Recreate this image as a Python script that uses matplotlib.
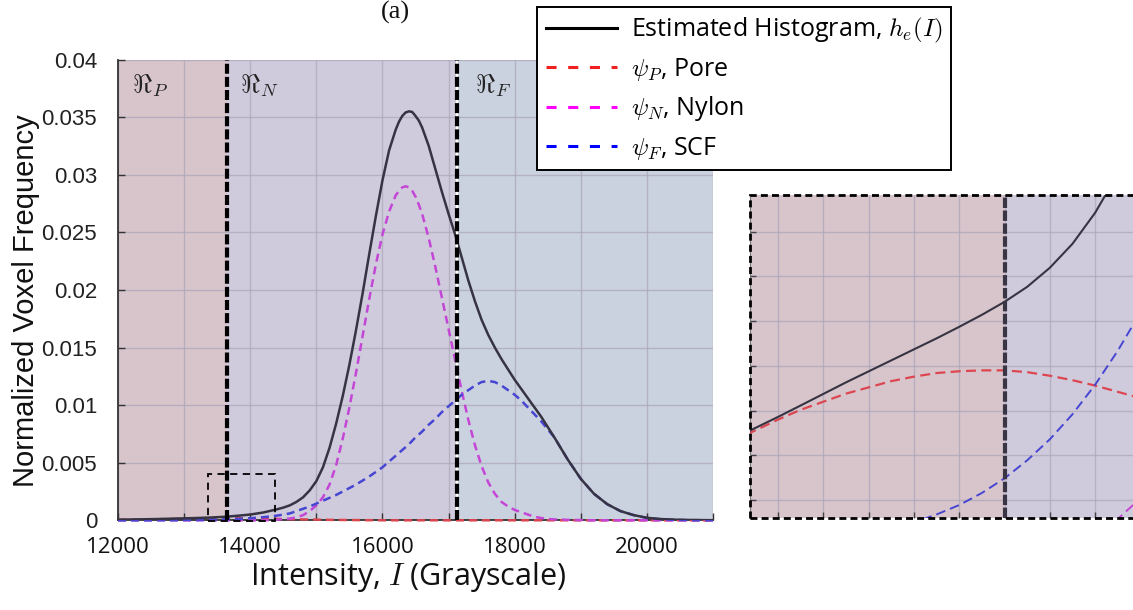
import numpy as np
import matplotlib
matplotlib.use("Agg")
import matplotlib.pyplot as plt
from matplotlib.lines import Line2D
from matplotlib.patches import Rectangle

plt.rcParams['mathtext.fontset'] = 'cm'

# ---------------- data ----------------
intensity = [12000, 12200, 12400, 12600, 12800, 13000, 13200, 13400, 13600, 13800,
             14000, 14200, 14400, 14500, 14600, 14700, 14800, 14900, 15000, 15100,
             15200, 15300, 15400, 15500, 15600, 15700, 15800, 15900, 16000, 16100,
             16200, 16250, 16300, 16350, 16400, 16450, 16500, 16550, 16600, 16700,
             16800, 16900, 17000, 17100, 17200, 17300, 17400, 17500, 17600, 17700,
             17800, 17900, 18000, 18100, 18200, 18300, 18400, 18500, 18600, 18800,
             19000, 19200, 19400, 19600, 19800, 20000, 20200, 20400, 20600, 20800,
             21000]

h_estimated = [0.00006, 0.00007, 0.00009, 0.00011, 0.00014, 0.00017, 0.00020, 0.00024, 0.00030, 0.00039,
               0.00050, 0.00068, 0.00095, 0.0011, 0.0013, 0.0016, 0.0020, 0.0026, 0.0034, 0.0046,
               0.0063, 0.0084, 0.0108, 0.0135, 0.0165, 0.0197, 0.0231, 0.0264, 0.0295, 0.0321,
               0.0339, 0.0346, 0.0351, 0.0354, 0.0355, 0.03545, 0.0351, 0.0347, 0.0341, 0.0325,
               0.0305, 0.0285, 0.0266, 0.0248, 0.0228, 0.0208, 0.0190, 0.0174, 0.0161, 0.0150,
               0.0140, 0.0131, 0.0122, 0.0114, 0.0106, 0.0098, 0.0090, 0.0081, 0.0072, 0.0053,
               0.0036, 0.0023, 0.0014, 0.0008, 0.00045, 0.00022, 0.00011, 0.00006, 0.00003, 0.00002,
               0.00001]

psi_pore = [0.00004, 0.00005, 0.00007, 0.00009, 0.00011, 0.00013, 0.00016, 0.00018, 0.00019, 0.00019,
            0.00017, 0.00015, 0.00012, 0.00011, 0.00010, 0.00009, 0.00008, 0.00007, 0.00006, 0.00005,
            0.00004, 0.00003, 0.00003, 0.00002, 0.00002, 0.00001, 0.00001, 0.00001, 0.0, 0.0,
            0.0, 0.0, 0.0, 0.0, 0.0, 0.0, 0.0, 0.0, 0.0, 0.0,
            0.0, 0.0, 0.0, 0.0, 0.0, 0.0, 0.0, 0.0, 0.0, 0.0,
            0.0, 0.0, 0.0, 0.0, 0.0, 0.0, 0.0, 0.0, 0.0, 0.0,
            0.0, 0.0, 0.0, 0.0, 0.0, 0.0, 0.0, 0.0, 0.0, 0.0,
            0.0]

psi_nylon = [0.0, 0.0, 0.0, 0.0, 0.0, 0.0, 0.0, 0.0, 0.0, 0.0,
             0.0, 0.0, 0.00005, 0.0001, 0.00015, 0.00026, 0.00045, 0.0008, 0.0013, 0.0020,
             0.0031, 0.0048, 0.0071, 0.0098, 0.0128, 0.0160, 0.0192, 0.0222, 0.0248, 0.0268,
             0.0282, 0.0286, 0.0289, 0.0290, 0.0289, 0.0286, 0.0281, 0.0274, 0.0266, 0.0245,
             0.0220, 0.0193, 0.0166, 0.0139, 0.0112, 0.0087, 0.0065, 0.0047, 0.0033, 0.0023,
             0.0016, 0.0012, 0.0009, 0.0007, 0.0005, 0.0003, 0.0002, 0.00012, 0.00008, 0.00004,
             0.00002, 0.0, 0.0, 0.0, 0.0, 0.0, 0.0, 0.0, 0.0, 0.0,
             0.0]

psi_scf = [0.0, 0.0, 0.0, 0.00001, 0.00001, 0.00002, 0.00003, 0.00005, 0.00008, 0.00012,
           0.00018, 0.00027, 0.0004, 0.0005, 0.0006, 0.0008, 0.0010, 0.0012, 0.00145, 0.0017,
           0.00195, 0.0022, 0.0025, 0.0028, 0.0031, 0.00345, 0.0038, 0.0042, 0.0046, 0.0051,
           0.0056, 0.00585, 0.0061, 0.00635, 0.0066, 0.0069, 0.0072, 0.00745, 0.0077, 0.0083,
           0.0088, 0.0094, 0.0099, 0.0104, 0.0109, 0.0113, 0.0117, 0.0120, 0.0121, 0.0120,
           0.0117, 0.0113, 0.0109, 0.0104, 0.0098, 0.0092, 0.0086, 0.0079, 0.0072, 0.0053,
           0.0036, 0.0023, 0.0014, 0.0008, 0.00045, 0.0002, 0.0001, 0.00005, 0.00002, 0.00001,
           0.0]

# magnified view around the pore / nylon threshold
inset_intensity = [13350, 13375, 13400, 13425, 13450, 13475, 13500, 13525, 13550, 13575,
                   13600, 13625, 13650, 13675, 13700, 13725, 13750, 13775, 13800]
inset_h = [0.0001184, 0.0001307, 0.0001430, 0.0001558, 0.0001687, 0.0001816, 0.0001939,
           0.0002062, 0.0002185, 0.0002308, 0.0002437, 0.0002571, 0.0002716, 0.0002884,
           0.0003097, 0.0003365, 0.0003712, 0.0004148, 0.0004685]
inset_pore = [0.000116, 0.000128, 0.000140, 0.000151, 0.000160, 0.000169, 0.000176, 0.000183,
              0.000188, 0.000192, 0.000194, 0.000195, 0.000195, 0.000193, 0.000189, 0.000184,
              0.000178, 0.000171, 0.000164]
inset_scf = [0.000001, 0.000001, 0.000002, 0.000003, 0.000005, 0.000008, 0.000012, 0.000018,
             0.000025, 0.000034, 0.0000445, 0.0000580, 0.0000744, 0.0000945, 0.0001180,
             0.0001460, 0.0001790, 0.0002170, 0.0002600]
inset_nylon = [0.0, 0.0, 0.0, 0.0, 0.0, 0.0, 0.0, 0.0, 0.0, 0.0,
               0.000001, 0.000002, 0.000003, 0.000005, 0.000008, 0.000013, 0.00002, 0.000029, 0.000052]

region_edges = [12000, 13650, 17130, 21000]
region_names = [r'$\Re_P$', r'$\Re_N$', r'$\Re_F$']
region_colors = ['#d8c5cc', '#d0cbdc', '#cbd2df']
zoom_box = [13366, 14375, 0.0, 0.004]

x_major = [12000, 14000, 16000, 18000, 20000]
y_ticks = [0, 0.005, 0.01, 0.015, 0.02, 0.025, 0.03, 0.035, 0.04]
y_tick_labels = ['0', '0.005', '0.01', '0.015', '0.02', '0.025', '0.03', '0.035', '0.04']

legend_labels = [r'Estimated Histogram, $h_e(I)$', r'$\psi_P$, Pore',
                 r'$\psi_N$, Nylon', r'$\psi_F$, SCF']

# ---------------- styling ----------------
W, H = 1133, 610
c_black = '#363442'
c_red = '#dc4650'
c_mag = '#c446d6'
c_blue = '#4646d2'
grid_c = '#aaa5b8'
dash_curve = (0, (3.2, 2.0))

fig = plt.figure(figsize=(W / 100, H / 100), dpi=100)


def fbox(x0, y0, x1, y1):
    return [x0 / W, 1 - y1 / H, (x1 - x0) / W, (y1 - y0) / H]


ax = fig.add_axes(fbox(118, 59.5, 713, 520.3))
for (a, b), col in zip(zip(region_edges[:-1], region_edges[1:]), region_colors):
    ax.axvspan(a, b, color=col, zorder=0, lw=0)

ax.set_xlim(12000, 21000)
ax.set_ylim(0, 0.04)
ax.set_xticks(x_major)
ax.set_xticks(np.arange(13000, 21001, 2000), minor=True)
ax.set_yticks(y_ticks)
ax.set_yticklabels(y_tick_labels, fontfamily='Liberation Sans', fontsize=16, color='#222222')
ax.set_xticklabels([str(v) for v in x_major], fontfamily='Open Sans', fontsize=16,
                   color='#111111')
ax.tick_params(axis='both', which='both', direction='in', length=5, width=1, color='#333333')
ax.tick_params(axis='y', pad=15)
ax.tick_params(axis='x', pad=12)
ax.grid(True, which='both', color=grid_c, lw=1, alpha=0.7, zorder=1)
ax.set_axisbelow(True)
for side in ['top', 'right']:
    ax.spines[side].set_visible(False)
for side in ['left', 'bottom']:
    ax.spines[side].set_color('#333333')
    ax.spines[side].set_linewidth(1.3)

ax.plot(intensity, psi_pore, color=c_red, lw=1.8, ls=dash_curve, zorder=4, clip_on=False)
ax.plot(intensity, psi_nylon, color=c_mag, lw=1.8, ls=dash_curve, zorder=4, clip_on=False)
ax.plot(intensity, psi_scf, color=c_blue, lw=1.8, ls=dash_curve, zorder=4, clip_on=False)
ax.plot(intensity, h_estimated, color=c_black, lw=1.8, zorder=5)

# region thresholds
ax.axvline(region_edges[2], color='white', lw=1.5, zorder=6)
for xv in region_edges[1:3]:
    ax.axvline(xv, color='black', lw=3, ls=(0, (2.4, 0.75)), zorder=7)

text_x = [12210, 13850, 17400]
for name, tx in zip(region_names, text_x):
    ax.text(tx, 0.0389, name, fontsize=19, va='top', ha='left', color='#222222', zorder=8)

zx0, zx1, zy0, zy1 = zoom_box
ax.add_patch(Rectangle((zx0, zy0 - 0.00007), zx1 - zx0, zy1 - zy0 + 0.00007, fill=False,
                       ec='black', lw=1.3, ls=(0, (4, 3)), zorder=9, clip_on=False))

ax.set_ylabel('Normalized Voxel Frequency', fontfamily='Liberation Sans', fontsize=21,
              color='#111111')
ax.yaxis.set_label_coords((40 - 118) / 595, 0.476)
ax.set_xlabel(r'Intensity, $I$ (Grayscale)', fontfamily='Open Sans', fontsize=22,
              color='#111111')
ax.xaxis.set_label_coords((408 - 118) / 595, (520.3 - 560) / 460.8)

fig.text(395 / W, 1 - 0.5 / H, '(a)', fontfamily='Liberation Serif', fontsize=19,
         ha='center', va='top', color='#111111')

# legend
handles = [Line2D([], [], color='black', lw=2.2),
           Line2D([], [], color='#f02020', lw=2.2, ls=(0, (3.3, 3.8))),
           Line2D([], [], color='#ff00ff', lw=2.2, ls=(0, (3.3, 3.8))),
           Line2D([], [], color='#0000ff', lw=2.2, ls=(0, (3.3, 3.8)))]
leg = fig.legend(handles, legend_labels, loc='upper left',
                 bbox_to_anchor=(537 / W, 1 - 7 / H), bbox_transform=fig.transFigure,
                 borderaxespad=0, prop={'family': 'Open Sans', 'size': 18},
                 handlelength=2.85, handletextpad=0.55, borderpad=0.35, labelspacing=0.45,
                 fancybox=False, framealpha=1, edgecolor='black')
leg.get_frame().set_linewidth(1.4)
leg.set_zorder(20)

# magnified inset
ai = fig.add_axes(fbox(750, 195, 1145, 518))
ai.set_xlim(13369, 13805)
ai.set_ylim(0.00003, 0.000391)
ai.axvspan(13300, region_edges[1], color=region_colors[0], lw=0, zorder=0)
ai.axvspan(region_edges[1], 13900, color=region_colors[1], lw=0, zorder=0)
ai.set_xticks(np.arange(13400, 13801, 50))
ai.set_yticks(np.arange(0.00005, 0.000351, 0.00005))
ai.set_xticklabels([])
ai.set_yticklabels([])
ai.tick_params(axis='both', direction='in', length=4, width=1, color='#444444')
ai.grid(True, color=grid_c, lw=1, alpha=0.7)
ai.set_axisbelow(True)
for side in ['top', 'right', 'bottom']:
    ai.spines[side].set_visible(False)
ai.spines['left'].set_color('#777777')
ai.plot(inset_intensity, inset_pore, color=c_red, lw=1.6, ls=(0, (4.5, 2.4)), zorder=4)
ai.plot(inset_intensity, inset_scf, color=c_blue, lw=1.4, ls=(0, (5, 2.6)), zorder=4)
ai.plot(inset_intensity, inset_nylon, color=c_mag, lw=1.4, ls=(0, (5, 2.6)), zorder=4)
ai.plot(inset_intensity, inset_h, color=c_black, lw=1.5, zorder=5)
ai.axvline(region_edges[1], color='#3a3545', lw=3, ls=(0, (2.5, 0.6)), zorder=6)
ai.add_patch(Rectangle((0, 0), 1, 1, transform=ai.transAxes, fill=False, ec='black',
                       lw=2, ls=(0, (2.5, 1.5)), zorder=10, clip_on=False))

fig.savefig('out.png', dpi=100)
